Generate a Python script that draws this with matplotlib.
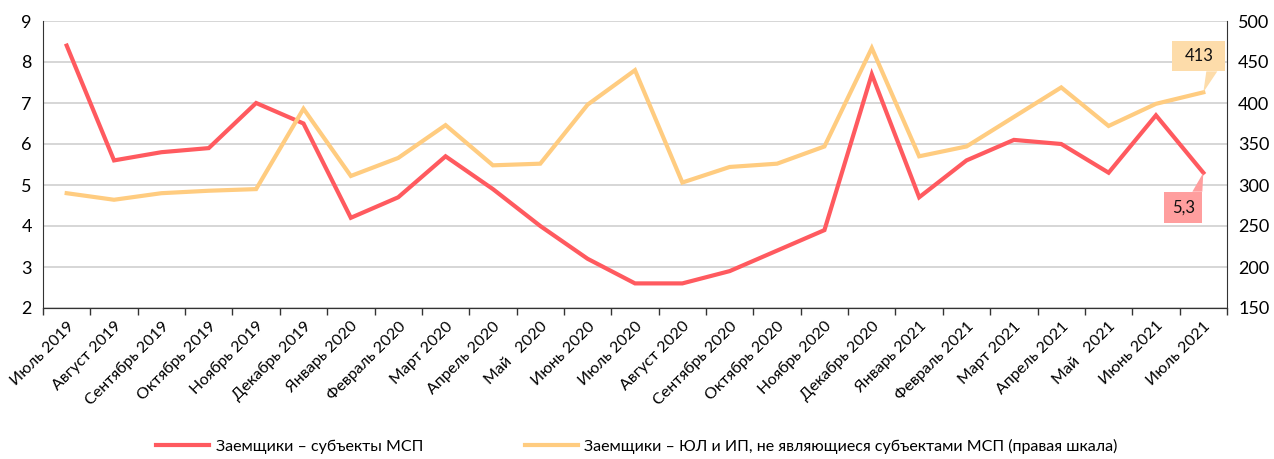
import matplotlib
matplotlib.use("Agg")
import matplotlib.pyplot as plt
import numpy as np
from matplotlib.patches import Polygon, Rectangle
from matplotlib.lines import Line2D

months = ["Июль 2019", "Август 2019", "Сентябрь 2019", "Октябрь 2019", "Ноябрь 2019",
          "Декабрь 2019", "Январь 2020", "Февраль 2020", "Март 2020", "Апрель 2020",
          "Май   2020", "Июнь 2020", "Июль 2020", "Август 2020", "Сентябрь 2020",
          "Октябрь 2020", "Ноябрь 2020", "Декабрь 2020", "Январь 2021", "Февраль 2021",
          "Март 2021", "Апрель 2021", "Май   2021", "Июнь 2021", "Июль 2021"]
msp = [8.4, 5.6, 5.8, 5.9, 7.0, 6.5, 4.2, 4.7, 5.7, 4.9, 4.0, 3.2, 2.6, 2.6, 2.9,
       3.4, 3.9, 7.7, 4.7, 5.6, 6.1, 6.0, 5.3, 6.7, 5.3]
non_msp = [290, 282, 290, 293, 295, 393, 311, 333, 373, 324, 326, 398, 440, 303, 322,
           326, 347, 467, 335, 347, 383, 419, 372, 399, 413]
label_msp = "Заемщики – субъекты МСП"
label_non = "Заемщики – ЮЛ и ИП, не являющиеся субъектами МСП (правая шкала)"

RED = "#FF5A5F"
ORANGE = "#FFCC80"
RED_BOX = "#FF9E9E"
ORANGE_BOX = "#FDDCAA"

plt.rcParams['font.family'] = ['Lato', 'DejaVu Sans']

W, H = 1274, 459
fig = plt.figure(figsize=(W/100, H/100), dpi=100)
ax = fig.add_axes([43/W, 1-308/H, (1227-43)/W, (308-21)/H])
ax2 = ax.twinx()

x = np.arange(len(months))
ax.plot(x, msp, color=RED, lw=3, zorder=3, solid_joinstyle='miter')
ax2.plot(x, non_msp, color=ORANGE, lw=3, zorder=3, solid_joinstyle='miter')

ax.set_xlim(-0.5, len(months)-0.5)
ax.set_ylim(2, 9)
ax2.set_ylim(150, 500)
ax.set_yticks(range(2, 10))
ax2.set_yticks(range(150, 501, 50))

ax.set_xticks(x)
ax.set_xticklabels(months, rotation=45, ha='right', rotation_mode='anchor', fontsize=11.5)
ax.set_xticks(np.arange(-0.5, len(months), 1), minor=True)
ax.tick_params(axis='x', which='major', length=0, pad=8)
ax.tick_params(axis='x', which='minor', length=5, color='#333333', width=1)
ax.tick_params(axis='y', length=0, labelsize=13, pad=8)
ax2.tick_params(axis='y', length=0, labelsize=13, pad=8)

ax.grid(axis='y', color='#D0D0D0', lw=1.2)
ax.set_axisbelow(True)
for a in (ax, ax2):
    a.spines['top'].set_visible(False)
    for s in ('left', 'right', 'bottom'):
        a.spines[s].set_color('#333333')
ax.spines['right'].set_visible(False)
ax2.spines['left'].set_visible(False)

last = len(months) - 1

def callout(axis, yval, text, color, box, tri):
    px, py = axis.transData.transform((last, yval))
    def f(dx, dy):
        return ((px + dx) / W, (py + dy) / H)
    x0, y0 = f(box[0], box[2])
    x1, y1 = f(box[1], box[3])
    fig.patches.append(Rectangle((x0, y0), x1 - x0, y1 - y0, transform=fig.transFigure,
                                 fc=color, ec='none', zorder=5))
    fig.patches.append(Polygon([f(*p) for p in tri] + [f(0, 0)], closed=True,
                               transform=fig.transFigure, fc=color, ec='none', zorder=5))
    fig.text((x0 + x1) / 2, (y0 + y1) / 2, text, ha='center', va='center',
             fontsize=12, color='#111111', zorder=6)

callout(ax2, non_msp[-1], str(non_msp[-1]), ORANGE_BOX,
        (-31, 22, 21, 51), [(3, 21), (14, 21)])
callout(ax, msp[-1], f"{msp[-1]:.1f}".replace('.', ','), RED_BOX,
        (-39, -1, -50, -19), [(-11, -19), (-1, -19)])

handles = [Line2D([], [], color=RED, lw=3), Line2D([], [], color=ORANGE, lw=3)]
fig.legend(handles, [label_msp, label_non], loc='center', bbox_to_anchor=(0.5, 1-446/H),
           ncol=2, frameon=False, fontsize=11.5, handlelength=3.3, columnspacing=6.4,
           handletextpad=0.4)

fig.savefig("out.png", dpi=100)
